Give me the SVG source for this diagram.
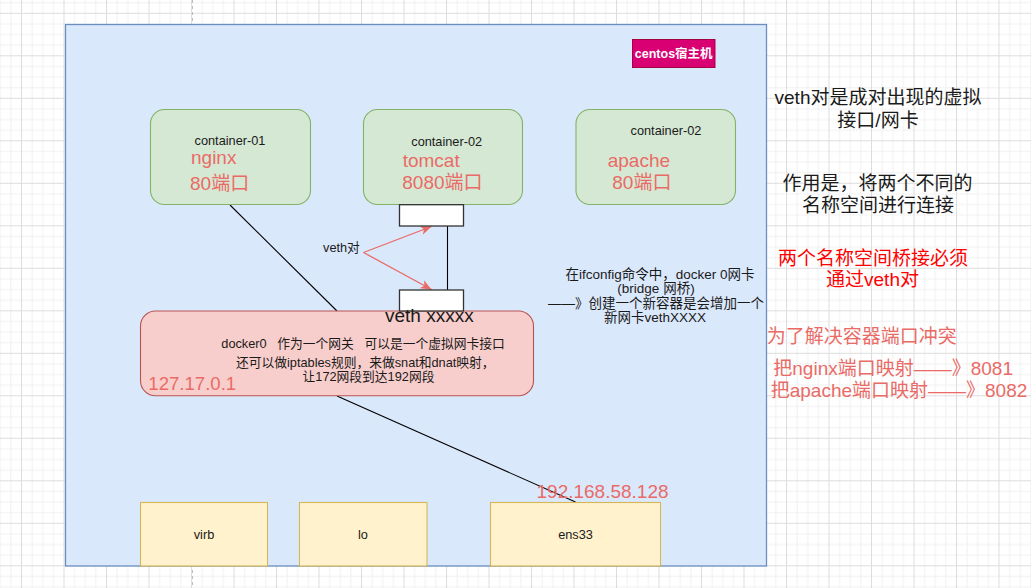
<svg xmlns="http://www.w3.org/2000/svg" width="1031" height="588" viewBox="0 0 1031 588">
  <style>
    text { font-family: "Liberation Sans", "Noto Sans CJK SC", sans-serif; }
    .s { font-size: 12.75px; fill: #1a1a1a; }
    .m { font-size: 13.5px; fill: #1a1a1a; }
    .l { font-size: 19px; fill: #1a1a1a; }
    .red { font-size: 19px; fill: #EA6B66; }
    .c { text-anchor: middle; }
    .cont { fill: #d5e8d4; stroke: #82b366; stroke-width: 1.1; }
    .nic { fill: #fff2cc; stroke: #d6b656; stroke-width: 1.1; }
    .port { fill: #ffffff; stroke: #333333; stroke-width: 1.3; }
    .wire { stroke: #000000; stroke-width: 1.1; fill: none; }
    .arr { stroke: #EA6B66; stroke-width: 1.3; fill: none; }
  </style>
  <defs>
    <pattern id="grid" patternUnits="userSpaceOnUse" x="21" y="12.8" width="42.5" height="42.5">
      <rect width="42.5" height="42.5" fill="#ffffff"/>
      <path d="M11.125 0 V42.5 M21.75 0 V42.5 M32.375 0 V42.5 M0 11.125 H42.5 M0 21.75 H42.5 M0 32.375 H42.5" stroke="#f1f1f1" stroke-width="1"/>
      <path d="M0.5 0 V42.5 M0 0.5 H42.5" stroke="#dddddd" stroke-width="1"/>
    </pattern>
    <marker id="ah" markerUnits="userSpaceOnUse" markerWidth="12" markerHeight="10" refX="11" refY="5" orient="auto">
      <path d="M0,0.5 L11,5 L0,9.5 L3,5 Z" fill="#EA6B66"/>
    </marker>
  </defs>

  <rect x="0" y="0" width="1031" height="588" fill="url(#grid)"/>
  <line x1="192.5" y1="0" x2="192.5" y2="588" stroke="#bdbdbd" stroke-width="1" stroke-dasharray="3,3"/>

  <g id="host">
    <rect x="65.5" y="24.5" width="701" height="541.5" fill="#dae8fc" stroke="#6c8ebf" stroke-width="1.3"/>
  </g>

  <g id="host-label">
    <rect x="632.5" y="39.5" width="82.5" height="28" fill="#d80073" stroke="#a50040" stroke-width="1"/>
    <text x="673.7" y="58" class="c" style="font-size:12.5px;font-weight:bold;fill:#ffffff">centos宿主机</text>
  </g>

  <g id="connectors">
    <line class="wire" x1="230" y1="205" x2="337" y2="311"/>
    <line class="wire" x1="337" y1="396" x2="575.5" y2="502"/>
    <line class="wire" x1="447.5" y1="226" x2="447.5" y2="290"/>
    <line class="arr" x1="363.5" y1="252.5" x2="431.5" y2="226.5" marker-end="url(#ah)"/>
    <line class="arr" x1="363.5" y1="252.5" x2="431.5" y2="289.5" marker-end="url(#ah)"/>
  </g>

  <g id="container-01">
    <rect class="cont" x="150.5" y="109.5" width="160" height="95" rx="14"/>
    <text class="s c" x="230" y="145">container-01</text>
    <text class="red" x="191" y="164">nginx</text>
    <text class="red" x="190" y="190">80端口</text>
  </g>

  <g id="container-02">
    <rect class="cont" x="363.5" y="109.5" width="159" height="95" rx="14"/>
    <text class="s c" x="446.7" y="146">container-02</text>
    <text class="red" x="402.7" y="167">tomcat</text>
    <text class="red" x="402.3" y="189">8080端口</text>
  </g>

  <g id="container-03">
    <rect class="cont" x="576" y="109.5" width="159.5" height="95" rx="14"/>
    <text class="s c" x="666" y="134.5">container-02</text>
    <text class="red" x="607.7" y="167">apache</text>
    <text class="red" x="612.3" y="189">80端口</text>
  </g>

  <g id="veth-top">
    <rect class="port" x="399.5" y="204.7" width="64" height="21.3"/>
  </g>

  <g id="veth-label">
    <text class="s" x="323" y="252">veth对</text>
  </g>

  <g id="docker0">
    <rect x="140.5" y="311" width="393" height="84.7" rx="15" fill="#f8cecc" stroke="#b85450" stroke-width="1.1"/>
    <text class="s c" x="363" y="348" xml:space="preserve">docker0   作为一个网关   可以是一个虚拟网卡接口</text>
    <text class="s c" x="365.3" y="366.5">还可以做iptables规则，来做snat和dnat映射，</text>
    <text class="s c" x="368.5" y="381">让172网段到达192网段</text>
    <text x="148.3" y="390" style="font-size:18.6px;fill:#EA6B66">127.17.0.1</text>
  </g>

  <g id="veth-bottom">
    <rect class="port" x="399.5" y="290" width="64" height="21"/>
    <text class="l" x="385" y="322">veth xxxxx</text>
  </g>

  <g id="ifconfig-note">
    <text class="m c" x="660" y="279">在ifconfig命令中，docker 0网卡</text>
    <text class="m c" x="656" y="293">(bridge 网桥)</text>
    <text class="m c" x="656" y="307.5">——》创建一个新容器是会增加一个</text>
    <text class="m c" x="655" y="321.5">新网卡vethXXXX</text>
  </g>

  <g id="virb">
    <rect class="nic" x="140.5" y="502.5" width="127" height="63.5"/>
    <text class="s c" x="204" y="538.5">virb</text>
  </g>
  <g id="lo">
    <rect class="nic" x="299.5" y="502.5" width="127.5" height="63.5"/>
    <text class="s c" x="363" y="538.5">lo</text>
  </g>
  <g id="ens33">
    <rect class="nic" x="490.5" y="502.5" width="170" height="63.5"/>
    <text class="s c" x="575.5" y="538.5">ens33</text>
    <text x="536.5" y="498" style="font-size:19px;fill:#EA6B66">192.168.58.128</text>
  </g>

  <g id="notes">
    <text class="l c" x="878" y="104">veth对是成对出现的虚拟</text>
    <text class="l c" x="878" y="126.5">接口/网卡</text>
    <text class="l c" x="877.5" y="190">作用是，将两个不同的</text>
    <text class="l c" x="878" y="212">名称空间进行连接</text>
    <text class="c" x="873" y="265" style="font-size:19px;fill:#ff0000">两个名称空间桥接必须</text>
    <text class="c" x="872.5" y="286" style="font-size:19px;fill:#ff0000">通过veth对</text>
    <text class="red" x="766.7" y="342.5">为了解决容器端口冲突</text>
    <text class="red" x="773.3" y="375">把nginx端口映射——》8081</text>
    <text class="red" x="770.7" y="396.5">把apache端口映射——》8082</text>
  </g>
</svg>
